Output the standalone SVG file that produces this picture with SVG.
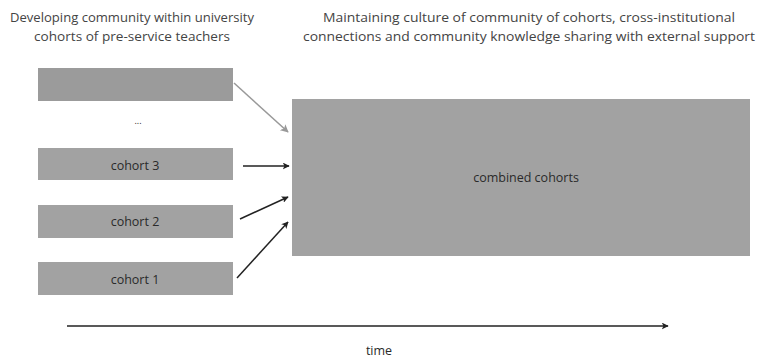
<svg xmlns="http://www.w3.org/2000/svg" width="758" height="358" viewBox="0 0 758 358">
<style>
.title{font-family:"Open Sans","Liberation Sans",sans-serif;font-size:13px;fill:#444;text-anchor:middle}
.lbl{font-family:"Open Sans","Liberation Sans",sans-serif;font-size:12.5px;fill:#2a2a2a;text-anchor:middle}
.box{fill:#a2a2a2}
.conn{stroke:#222;stroke-width:1.5;fill:none;marker-end:url(#ah)}
</style>
<defs>
<marker id="ah" viewBox="0 0 10 10" refX="9" refY="5" markerWidth="7" markerHeight="7" orient="auto" markerUnits="userSpaceOnUse"><path d="M0,0 L10,5 L0,10 L2.5,5 z" fill="#222"/></marker>
<marker id="ahg" viewBox="0 0 10 10" refX="9" refY="5" markerWidth="8" markerHeight="8" orient="auto" markerUnits="userSpaceOnUse"><path d="M0,0 L10,5 L0,10 L2.5,5 z" fill="#999"/></marker>
</defs>
<rect width="758" height="358" fill="#fff"/>
<text class="title" x="132" y="22" textLength="244" lengthAdjust="spacingAndGlyphs">Developing community within university</text>
<text class="title" x="132" y="41" textLength="196" lengthAdjust="spacingAndGlyphs">cohorts of pre-service teachers</text>
<text class="title" x="529" y="22" textLength="412" lengthAdjust="spacingAndGlyphs">Maintaining culture of community of  cohorts, cross-institutional</text>
<text class="title" x="529" y="41" textLength="452" lengthAdjust="spacingAndGlyphs">connections and community knowledge sharing with external support</text>
<g id="top"><rect x="38" y="68" width="195" height="33" fill="#9b9b9b"/></g>
<text class="lbl" x="138" y="124" style="font-size:9px">...</text>
<g id="cohort3"><rect class="box" x="38" y="148" width="195" height="32"/><text class="lbl" x="135" y="170">cohort 3</text></g>
<g id="cohort2"><rect class="box" x="38" y="205" width="195" height="33"/><text class="lbl" x="135" y="226">cohort 2</text></g>
<g id="cohort1"><rect class="box" x="38" y="262" width="195" height="33"/><text class="lbl" x="135" y="284">cohort 1</text></g>
<g id="combined"><rect class="box" x="292" y="99" width="458" height="157"/><text class="lbl" x="526" y="182">combined cohorts</text></g>
<g id="connectors">
<line x1="234" y1="83" x2="288" y2="132" stroke="#999" stroke-width="1.5" marker-end="url(#ahg)"/>
<line class="conn" x1="243" y1="166" x2="289" y2="166"/>
<line class="conn" x1="240" y1="219" x2="288" y2="197"/>
<line class="conn" x1="237" y1="278" x2="288" y2="222"/>
<line class="conn" x1="67" y1="326" x2="668" y2="326"/>
</g>
<text class="lbl" x="379" y="355">time</text>
</svg>
